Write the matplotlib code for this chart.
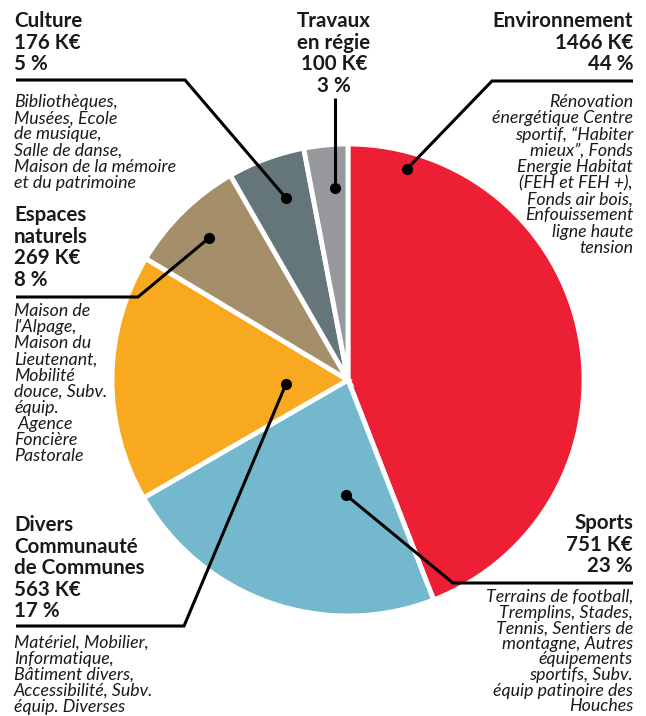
import matplotlib.pyplot as plt

plt.rcParams['font.family'] = ['Lato', 'DejaVu Sans']

# data
categories = ["Environnement", "Sports", "Divers\nCommunauté\nde Communes",
              "Espaces\nnaturels", "Culture", "Travaux\nen régie"]
amounts = [1466, 751, 563, 269, 176, 100]          # K€
percents = [44, 23, 17, 8, 5, 3]
colors = ["#ED1F34", "#74B8CD", "#F9A91F", "#A48F6A", "#64767A", "#97989C"]
details = [
    "Rénovation\nénergétique Centre\nsportif, “Habiter\nmieux”, Fonds\nEnergie Habitat\n"
    "(FEH et FEH +),\nFonds air bois,\nEnfouissement\nligne haute\ntension",
    "Terrains de football,\nTremplins, Stades,\nTennis, Sentiers de\nmontagne, Autres\n"
    "équipements\nsportifs, Subv.\néquip patinoire des\nHouches",
    "Matériel, Mobilier,\nInformatique,\nBâtiment divers,\nAccessibilité, Subv.\néquip. Diverses",
    "Maison de\nl'Alpage,\nMaison du\nLieutenant,\nMobilité\ndouce, Subv.\néquip.\n Agence\nFoncière\nPastorale",
    "Bibliothèques,\nMusées, Ecole\nde musique,\nSalle de danse,\nMaison de la mémoire\net du patrimoine",
    "",
]

# layout (pixel coordinates, y downwards)
W, H = 646, 716
CX, CY, R = 348, 380, 236
# title anchor, title alignment, detail top, detail line spacing, leader path (dot first)
layout = [
    dict(tx=633, ty=11, ha="right", dy=94, ls=1.01, path=[(407, 169), (492, 81), (633, 81)]),
    dict(tx=633, ty=513, ha="right", dy=589, ls=0.97, path=[(346, 495), (453, 583), (633, 583)]),
    dict(tx=14, ty=515, ha="left", dy=635, ls=1.0, path=[(286, 384), (184, 626), (16, 626)]),
    dict(tx=14, ty=205, ha="left", dy=303, ls=1.01, path=[(209, 238), (138, 297), (16, 297)]),
    dict(tx=14, ty=11, ha="left", dy=94, ls=1.01, path=[(286, 198), (185, 80), (16, 80)]),
    dict(tx=334, ty=11, ha="center", dy=None, ls=1.0, path=[(335, 188), (335, 98)]),
]


def main():
    fig = plt.figure(figsize=(W / 100, H / 100), dpi=100)
    ax = fig.add_axes([0, 0, 1, 1])

    ax.pie(amounts, colors=colors, startangle=-90, counterclock=True,
           center=(CX, CY), radius=R,
           wedgeprops=dict(edgecolor="white", linewidth=3.5))
    ax.set_xlim(0, W)
    ax.set_ylim(H, 0)
    ax.axis("off")

    for cat, amt, pct, det, lay in zip(categories, amounts, percents, details, layout):
        ax.text(lay["tx"], lay["ty"], f"{cat}\n{amt} K€\n{pct} %",
                ha=lay["ha"], va="top", multialignment=lay["ha"],
                fontsize=14.8, fontweight="bold", color="#1a1a1a", linespacing=1.1)
        if det:
            ax.text(lay["tx"], lay["dy"], det, ha=lay["ha"], va="top",
                    multialignment=lay["ha"], fontsize=12.8, style="italic",
                    color="#1a1a1a", linespacing=lay["ls"])
        xs = [p[0] for p in lay["path"]]
        ys = [p[1] for p in lay["path"]]
        ax.plot(xs, ys, color="black", lw=2.2, solid_joinstyle="miter",
                solid_capstyle="butt")
        ax.plot(xs[0], ys[0], "o", color="black", ms=7)

    fig.savefig("out.png", dpi=100)


if __name__ == "__main__":
    main()
